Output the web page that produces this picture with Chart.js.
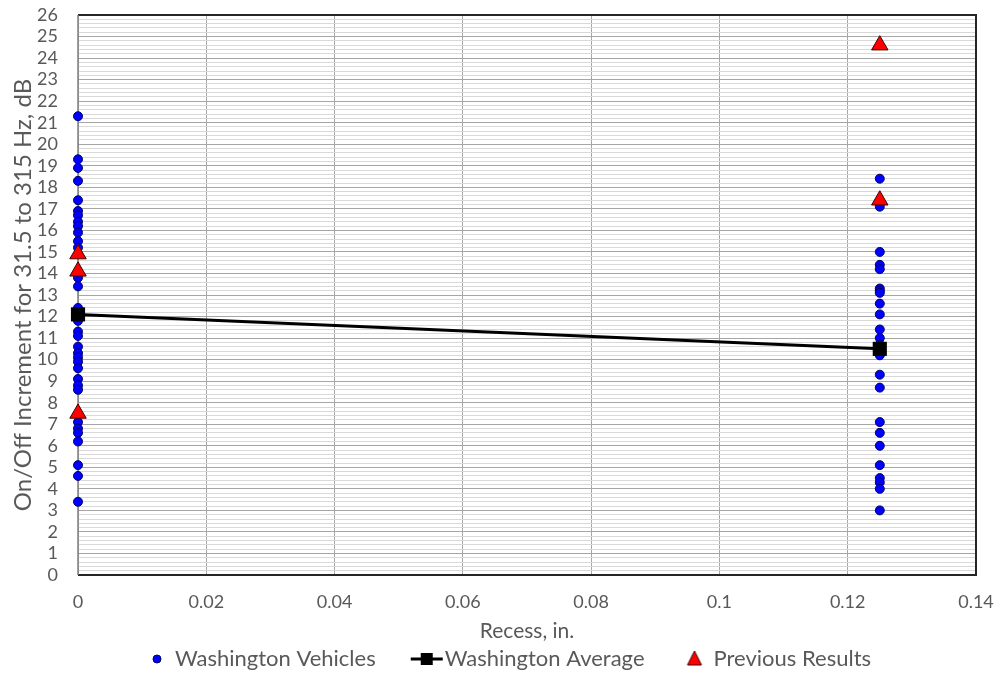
<!DOCTYPE html>
<html><head><meta charset="utf-8">
<script src="https://cdn.jsdelivr.net/npm/chart.js@4.4.0/dist/chart.umd.min.js"></script>
<style>html,body{margin:0;padding:0;background:#fff}#wrap{width:997px;height:675px;position:relative}</style>
</head><body><div id="wrap"><canvas id="c"></canvas></div>
<script>
// ---- data ----
const xTickLabels = [0, 0.02, 0.04, 0.06, 0.08, 0.1, 0.12, 0.14];
const yTickLabels = [0,1,2,3,4,5,6,7,8,9,10,11,12,13,14,15,16,17,18,19,20,21,22,23,24,25,26];
const recessLevels = [0, 0.125];
const vehiclesAtZero = [21.3, 19.3, 18.9, 18.3, 17.4, 16.9, 16.7, 16.4, 16.2, 15.9, 15.5, 15.2, 13.8, 13.4, 12.4, 12.1, 11.8, 11.3, 11.1, 10.6, 10.3, 10.1, 9.9, 9.6, 9.1, 8.8, 8.6, 7.1, 6.8, 6.6, 6.2, 5.1, 4.6, 3.4];
const vehiclesAt0125 = [18.4, 17.1, 15.0, 14.4, 14.2, 13.3, 13.2, 13.1, 12.6, 12.1, 11.4, 11.0, 10.7, 10.2, 9.3, 8.7, 7.1, 6.6, 6.0, 5.1, 4.5, 4.3, 4.0, 3.0];
const averageValues = [12.1, 10.5];
const previousRecess = [0, 0, 0, 0.125, 0.125];
const previousValues = [14.9, 14.1, 7.5, 24.6, 17.4];
const seriesNames = ['Washington Vehicles', 'Washington Average', 'Previous Results'];
const xTitle = 'Recess, in.';
const yTitle = 'On/Off Increment for 31.5 to 315 Hz, dB';

// ---- build points ----
const vehiclePts = vehiclesAtZero.map(v => ({x: recessLevels[0], y: v}))
  .concat(vehiclesAt0125.map(v => ({x: recessLevels[1], y: v})));
const avgPts = averageValues.map((v, i) => ({x: recessLevels[i], y: v}));
const prevPts = previousValues.map((v, i) => ({x: previousRecess[i], y: v}));

const FONT = 'Lato';
const TICK_COLOR = '#595959';
const LEG_F = 22;

function icon(draw) {
  const c = document.createElement('canvas');
  c.width = 100; c.height = 24;
  const g = c.getContext('2d');
  draw(g);
  return c;
}
const ts = 70 + LEG_F / 2; // text start in icon coords
const icoVeh = icon(g => { g.beginPath(); g.arc(ts - 18, 12, 4, 0, Math.PI * 2); g.fillStyle = '#0000ff'; g.fill(); g.lineWidth = 1; g.strokeStyle = '#000066'; g.stroke(); });
const icoAvg = icon(g => { g.strokeStyle = '#000'; g.lineWidth = 3; g.beginPath(); g.moveTo(ts - 34, 12); g.lineTo(ts - 2, 12); g.stroke(); g.fillStyle = '#000'; g.fillRect(ts - 24, 6, 12, 12); });
const icoPrev = icon(g => { const cx = ts - 19; g.beginPath(); g.moveTo(cx, 4); g.lineTo(cx + 7, 18); g.lineTo(cx - 7, 18); g.closePath(); g.fillStyle = '#ff0000'; g.fill(); g.lineWidth = 1; g.strokeStyle = '#400000'; g.stroke(); });
const icons = [icoVeh, icoAvg, icoPrev];

const framePlugin = {
  id: 'frame',
  beforeDatasetsDraw(chart) {
    const a = chart.chartArea, g = chart.ctx;
    g.save();
    g.lineWidth = 2;
    g.strokeStyle = '#262626';
    g.beginPath(); g.moveTo(a.left, a.top); g.lineTo(a.right, a.top); g.lineTo(a.right, a.bottom); g.lineTo(a.left, a.bottom); g.stroke();
    g.strokeStyle = '#7f7f7f'; g.lineWidth = 1.5;
    g.beginPath(); g.moveTo(a.left, a.top); g.lineTo(a.left, a.bottom); g.stroke();
    g.restore();
  }
};

new Chart(document.getElementById('c'), {
  type: 'scatter',
  data: {
    datasets: [
      { label: seriesNames[0], data: vehiclePts, order: 3, clip: false, pointStyle: 'circle', pointRadius: 4.5, pointHoverRadius: 4.5,
        backgroundColor: '#0000ff', borderColor: '#000066', borderWidth: 1, showLine: false },
      { label: seriesNames[1], data: avgPts, order: 2, clip: false, showLine: true, borderColor: '#000000', borderWidth: 3,
        pointStyle: 'rect', pointRadius: 10, pointHoverRadius: 10, backgroundColor: '#000000', pointBorderWidth: 0 },
      { label: seriesNames[2], data: prevPts, order: 1, clip: false, pointStyle: 'triangle', pointRadius: 9.5, pointHoverRadius: 9.5,
        backgroundColor: '#ff0000', borderColor: '#400000', borderWidth: 1, showLine: false }
    ]
  },
  options: {
    responsive: true, maintainAspectRatio: false, animation: false,
    layout: { autoPadding: false, padding: { left: 19, right: 21, top: 15, bottom: -5 } },
    plugins: {
      tooltip: { enabled: false },
      legend: {
        position: 'bottom',
        labels: {
          usePointStyle: true, pointStyleWidth: 40, padding: 18,
          color: TICK_COLOR, font: { family: FONT, size: LEG_F },
          generateLabels: chart => chart.data.datasets.map((d, i) => ({
            text: d.label, pointStyle: icons[i], fillStyle: 'transparent', strokeStyle: 'transparent',
            lineWidth: 0, hidden: false, datasetIndex: i, fontColor: TICK_COLOR
          }))
        }
      }
    },
    scales: {
      x: {
        type: 'linear', min: 0, max: 0.14,
        afterBuildTicks: s => { s.ticks = xTickLabels.map(v => ({ value: v })); },
        afterFit: s => { s.height = 55; },
        ticks: { color: TICK_COLOR, font: { family: FONT, size: 18 }, padding: 2, maxRotation: 0, autoSkip: false,
          callback: v => String(v) },
        grid: { color: '#a6a6a6', lineWidth: 1, drawTicks: true, tickLength: 14, tickColor: 'rgba(0,0,0,0)' },
        border: { display: false },
        title: { display: true, text: xTitle, color: TICK_COLOR, font: { family: FONT, size: 21 }, padding: { top: 0, bottom: -14 } }
      },
      yMinor: {
        type: 'linear', position: 'left', min: 0, max: 26,
        afterBuildTicks: s => { const t = []; for (let k = 0; k <= 130; k++) t.push({ value: k / 5 }); s.ticks = t; },
        afterFit: s => { s.width = 0; },
        ticks: { display: false, autoSkip: false },
        grid: { color: '#d9d9d9', lineWidth: 1, drawTicks: false },
        border: { display: false }
      },
      y: {
        type: 'linear', position: 'left', min: 0, max: 26,
        afterBuildTicks: s => { s.ticks = yTickLabels.map(v => ({ value: v })); },
        afterFit: s => { s.width = 59; },
        ticks: { color: TICK_COLOR, font: { family: FONT, size: 18 }, padding: 2, autoSkip: false },
        grid: { color: '#a6a6a6', lineWidth: 1, drawTicks: true, tickLength: 18, tickColor: 'rgba(0,0,0,0)' },
        border: { display: false },
        title: { display: true, text: yTitle, color: TICK_COLOR, font: { family: FONT, size: 24 }, padding: { top: -10, bottom: 0 } }
      }
    }
  },
  plugins: [framePlugin]
});
</script></body></html>
